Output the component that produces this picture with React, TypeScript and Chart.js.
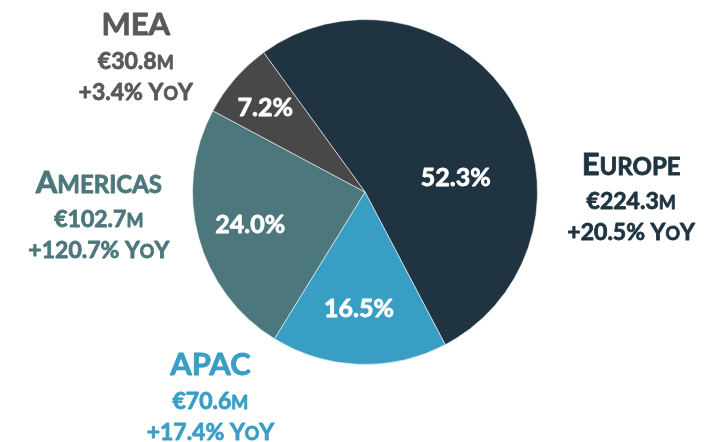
import React, { useEffect, useRef } from 'react';
import { Chart, registerables } from 'chart.js';

Chart.register(...registerables);

const regions = ['Europe', 'APAC', 'Americas', 'MEA'];
const shares = [52.3, 16.5, 24.0, 7.2];
const revenueM = ['224.3', '70.6', '102.7', '30.8'];
const yoyPct = ['20.5', '17.4', '120.7', '3.4'];
const sliceColors = ['#1f3440', '#399ec4', '#4c777c', '#484848'];
const labelColors = ['#1f3440', '#399ec4', '#4c777c', '#595959'];

// label placement (in units of pie radius, relative to pie centre)
const pctPos = [
  [0.526, -0.087],
  [-0.035, 0.671],
  [-0.665, 0.185],
  [-0.578, -0.491],
];
const outerPos = [
  [1.543, -0.098],
  [-0.896, 1.058],
  [-1.543, 0.006],
  [-1.329, -0.908],
];

const FONT = 'Lato, "Open Sans", sans-serif';
const TITLE = 31;
const TITLE_SMALL = 24;
const SUB = 23;
const SMALL = 18;
const PCT = 25;

type Seg = { t: string; s: number };

function drawSegs(ctx: CanvasRenderingContext2D, segs: Seg[], cx: number, y: number, color: string) {
  let total = 0;
  const widths = segs.map((g) => {
    ctx.font = `bold ${g.s}px ${FONT}`;
    const w = ctx.measureText(g.t).width;
    total += w;
    return w;
  });
  let x = cx - total / 2;
  ctx.fillStyle = color;
  ctx.strokeStyle = color;
  ctx.lineWidth = 0.8;
  ctx.lineJoin = 'round';
  ctx.textAlign = 'left';
  ctx.textBaseline = 'alphabetic';
  segs.forEach((g, i) => {
    ctx.font = `bold ${g.s}px ${FONT}`;
    ctx.fillText(g.t, x, y);
    ctx.strokeText(g.t, x, y);
    x += widths[i];
  });
}

function titleSegs(name: string): Seg[] {
  if (name === name.toUpperCase()) return [{ t: name, s: TITLE }];
  return [
    { t: name[0], s: TITLE },
    { t: name.slice(1).toUpperCase(), s: TITLE_SMALL },
  ];
}

const labelPlugin = {
  id: 'pieLabels',
  afterDatasetsDraw(chart: any) {
    const ctx: CanvasRenderingContext2D = chart.ctx;
    const meta = chart.getDatasetMeta(0);
    const first = meta.data[0];
    if (!first) return;
    const cx = first.x;
    const cy = first.y;
    const r = first.outerRadius;
    ctx.save();
    meta.data.forEach((_arc: any, i: number) => {
      // percentage inside slice
      const px = cx + pctPos[i][0] * r;
      const py = cy + pctPos[i][1] * r;
      drawSegs(ctx, [{ t: shares[i].toFixed(1) + '%', s: PCT }], px, py + 9, '#ffffff');

      // outside label block
      const ox = cx + outerPos[i][0] * r;
      const oy = cy + outerPos[i][1] * r;
      const col = labelColors[i];
      drawSegs(ctx, titleSegs(regions[i]), ox, oy, col);
      drawSegs(
        ctx,
        [
          { t: '€' + revenueM[i], s: SUB },
          { t: 'M', s: SMALL },
        ],
        ox,
        oy + 34,
        col
      );
      drawSegs(
        ctx,
        [
          { t: '+' + yoyPct[i] + '% Y', s: SUB },
          { t: 'O', s: SMALL },
          { t: 'Y', s: SUB },
        ],
        ox,
        oy + 65,
        col
      );
    });
    ctx.restore();
  },
};

export default function App() {
  const ref = useRef<HTMLCanvasElement | null>(null);
  useEffect(() => {
    if (!ref.current) return;
    const chart = new Chart(ref.current, {
      type: 'pie',
      data: {
        labels: regions,
        datasets: [
          {
            data: shares,
            backgroundColor: sliceColors,
            borderColor: 'rgba(255,255,255,0.55)',
            borderWidth: 1,
          },
        ],
      },
      options: {
        animation: false,
        responsive: false,
        rotation: -36,
        layout: { padding: { left: 192, right: 180, top: 19, bottom: 77 } },
        plugins: {
          legend: { display: false },
          tooltip: { enabled: false },
        },
      },
      plugins: [labelPlugin],
    });
    return () => chart.destroy();
  }, []);
  return (
    <div style={{ position: 'fixed', left: 0, top: 0, width: 718, height: 442, background: '#fff' }}>
      <canvas ref={ref} width={718} height={442} style={{ width: 718, height: 442 }} />
    </div>
  );
}
